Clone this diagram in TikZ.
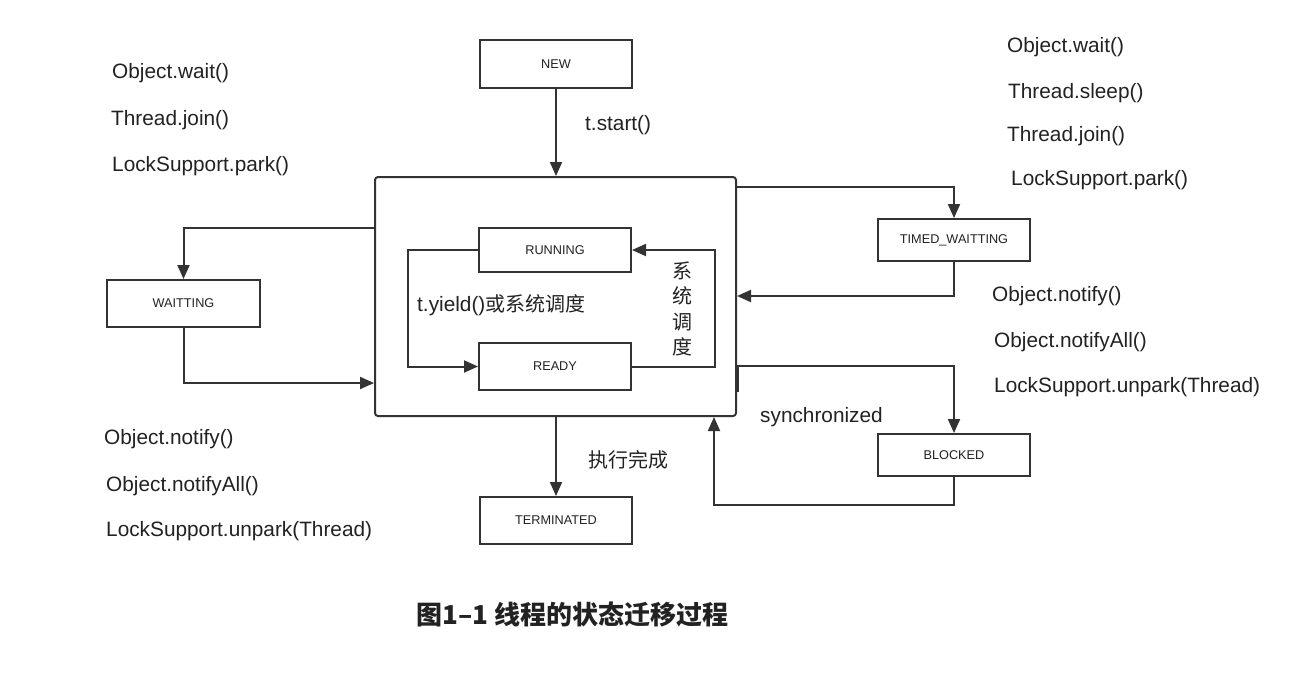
\documentclass[tikz,border=0pt]{standalone}
\usepackage{fontspec}
\setmainfont{Liberation Sans}
\newfontfamily\cjk{Noto Sans CJK SC}
\usetikzlibrary{arrows.meta}
\definecolor{ln}{HTML}{333333}
\definecolor{tx}{HTML}{222222}
\tikzset{
  box/.style={draw=ln, line width=2pt, rectangle, minimum width=152pt, inner sep=0pt, text=tx, font=\fontsize{12.7}{14}\selectfont},
  arr/.style={draw=ln, line width=2pt, -{Triangle[length=14pt,width=12pt]}},
  lbl/.style={anchor=west, inner sep=0pt, yshift=-1.5pt, text=tx, font=\fontsize{20.8}{24}\selectfont},
}
\begin{document}
\begin{tikzpicture}[x=1pt,y=-1pt]
\useasboundingbox[fill=white] (0,0) rectangle (1298,673);
% nodes
\node[box, minimum height=48pt] (new) at (556,64) {NEW};
\node[draw=ln, line width=2pt, rounded corners=3pt, minimum width=361pt, minimum height=239pt, inner sep=0pt] (big) at (555.5,296.5) {};
\node[box, minimum height=44pt] (running) at (555,250) {RUNNING};
\node[box, minimum height=47pt] (ready) at (555,366.5) {READY};
\node[box, minimum height=47pt, minimum width=153pt] (wait) at (183.5,303.5) {WAITTING};
\node[box, minimum height=42pt] (tw) at (954,240) {TIMED\_WAITTING};
\node[box, minimum height=42pt] (blocked) at (954,455) {BLOCKED};
\node[box, minimum height=47pt] (term) at (556,520.5) {TERMINATED};
\coordinate (bt) at (738,392);
% connectors
\draw[arr] (new.south) -- (new.south |- big.north);
\draw[arr] (big.west |- 0,228) -| (wait.north);
\draw[arr] (wait.south) |- (big.west |- 0,383);
\draw[arr] (big.east |- 0,187) -| (tw.north);
\draw[arr] (tw.south) |- (big.east |- 0,296);
\draw[arr] (bt) -- (bt |- 0,366) -| (blocked.north);
\draw[arr] (blocked.south) -- (blocked.south |- 0,505) -| (big.south -| 714,0);
\draw[arr] (big.south -| term.north) -- (term.north);
\draw[arr] (running.west) -- (running.west -| 408,0) |- (ready.west);
\draw[arr] (ready.east) -- (ready.east -| 715,0) |- (running.east);
% labels
\node[lbl] (l1) at (585,124) {t.start()};
\node[lbl] (l2) at (417,304) {t.yield()\cjk\fontsize{20}{24}\selectfont 或系统调度};
\node[inner sep=0pt, text=tx, font=\cjk\fontsize{20}{25.5}\selectfont, align=center] (l3) at (682,309) {系\\统\\调\\度};
\node[lbl, font=\cjk\fontsize{20}{24}\selectfont] (l4) at (588,458) {执行完成};
\node[lbl] (l5) at (760,416) {synchronized};
\node[lbl] (a1) at (112,72) {Object.wait()};
\node[lbl] (a2) at (111,119) {Thread.join()};
\node[lbl] (a3) at (112,165) {LockSupport.park()};
\node[lbl] (b1) at (104,438) {Object.notify()};
\node[lbl] (b2) at (106,485) {Object.notifyAll()};
\node[lbl] (b3) at (106,530) {LockSupport.unpark(Thread)};
\node[lbl] (c1) at (1007,46) {Object.wait()};
\node[lbl] (c2) at (1008,92) {Thread.sleep()};
\node[lbl] (c3) at (1007,135) {Thread.join()};
\node[lbl] (c4) at (1011,179) {LockSupport.park()};
\node[lbl] (d1) at (992,295) {Object.notify()};
\node[lbl] (d2) at (994,341) {Object.notifyAll()};
\node[lbl] (d3) at (994,386) {LockSupport.unpark(Thread)};
\node[anchor=west, inner sep=0pt, text=tx, font=\cjk\bfseries\fontsize{26}{30}\selectfont] (cap) at (416,614) {图1–1 线程的状态迁移过程};
\end{tikzpicture}
\end{document}
